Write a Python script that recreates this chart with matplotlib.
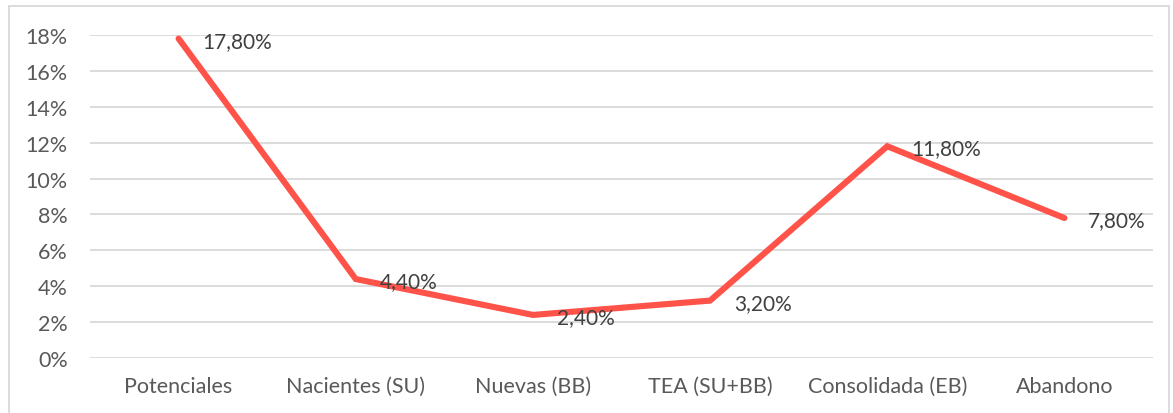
import numpy as np
import matplotlib.pyplot as plt
from matplotlib.patches import Rectangle
from matplotlib.ticker import FuncFormatter

plt.rcParams['font.family'] = ['Lato', 'DejaVu Sans']

categories = ['Potenciales', 'Nacientes (SU)', 'Nuevas (BB)', 'TEA (SU+BB)', 'Consolidada (EB)', 'Abandono']
values = [17.8, 4.4, 2.4, 3.2, 11.8, 7.8]   # percent
yticks = [0, 2, 4, 6, 8, 10, 12, 14, 16, 18]

text_col = '#595959'
grid_col = '#D9D9D9'
line_col = '#FF5349'

fig = plt.figure(figsize=(11.73, 4.14), dpi=100)
ax = fig.add_axes([90 / 1173, 55 / 414, 1063 / 1173, 323 / 414])

x = np.arange(len(categories))
ax.plot(x, values, color=line_col, lw=4.4, solid_capstyle='round', solid_joinstyle='miter', zorder=3)

# data labels, right of each point
for xi, v in zip(x, values):
    lab = f'{v:.2f}'.replace('.', ',') + '%'
    ax.annotate(lab, (xi, v), xytext=(17, -1.5), textcoords='offset points',
                ha='left', va='center', fontsize=15, color='#404040', zorder=4)

ax.set_xlim(-0.5, len(categories) - 0.5)
ax.set_ylim(0, 18)
ax.set_yticks(yticks)
ax.yaxis.set_major_formatter(FuncFormatter(lambda v, p: f'{v:.0f}%'))
ax.set_xticks(x)
ax.set_xticklabels(categories)
ax.tick_params(axis='both', length=0, labelsize=15.5, labelcolor=text_col)
ax.tick_params(axis='y', pad=16)
ax.tick_params(axis='x', pad=13)
ax.grid(axis='y', color=grid_col, lw=1.3)
ax.set_axisbelow(True)
for s in ax.spines.values():
    s.set_visible(False)

# outer chart border
fig.patches.append(Rectangle((9 / 1173, -0.05), 1160 / 1173, 1.05 - 7 / 414,
                             transform=fig.transFigure, fill=False,
                             edgecolor='#D9D9D9', lw=1.3))

fig.savefig('out.png', dpi=100)
